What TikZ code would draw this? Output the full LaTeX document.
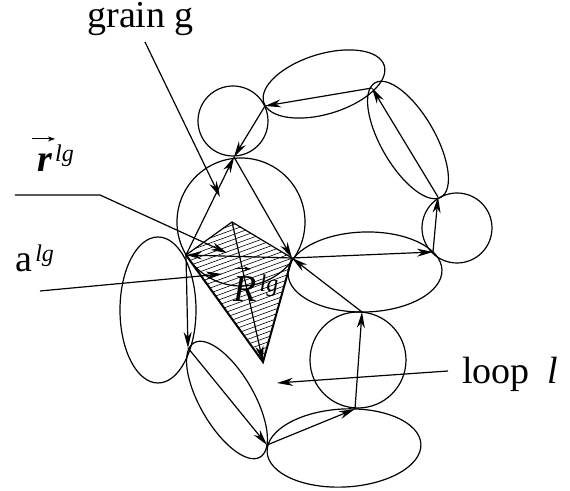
\documentclass[tikz,border=0pt]{standalone}
\usepackage{fontspec}
\setmainfont{Liberation Serif}
\usetikzlibrary{arrows.meta}

\tikzset{
  grain/.style={line width=0.6pt},
  branch/.style={line width=0.6pt, -{Stealth[length=8pt,width=4pt,inset=2.5pt]}},
  pointer/.style={line width=0.6pt, -{Stealth[length=8pt,width=4pt,inset=2.5pt]}},
  overarrow/.style={line width=0.5pt, -{Stealth[length=3.5pt,width=2.5pt,inset=1pt]}},
  hatch/.style={line width=0.3pt},
  lbl/.style={inner sep=0pt, anchor=base west, font=\fontsize{19}{22}\selectfont},
}
\newcommand{\suplg}{\kern1.5pt\raisebox{5pt}{\fontsize{12}{13}\selectfont\itshape lg}}

\begin{document}
\begin{tikzpicture}[x=0.5pt, y=-0.5pt]
    \useasboundingbox (0,0) rectangle (570,491);
    \coordinate (c1) at (234,157);
    \coordinate (c2) at (265,106);
    \coordinate (c3) at (372,88);
    \coordinate (c4) at (438,197);
    \coordinate (c5) at (433,252);
    \coordinate (c6) at (292,258);
    \coordinate (c7) at (362,312);
    \coordinate (c8) at (355,409);
    \coordinate (c9) at (267,445);
    \coordinate (c10) at (188,348);
    \coordinate (c11) at (186,255);
    \coordinate (top) at (232,222);
    \coordinate (bot) at (263,362);

    \begin{scope}
      \clip (c11) -- (top) -- (c6) -- (bot) -- cycle;
      \foreach \k in {200,205,...,430}
        \draw[hatch] (150,\k) -- ++(200,-73);
    \end{scope}
    \draw[grain] (c11) -- (top) -- (c6);
    \draw[line width=1pt] (c11) -- (bot) -- (c6);

    \draw[grain] (233,121) circle [radius=35];
    \draw[grain] (241,222) circle [radius=64];
    \draw[grain, rotate around={17:(324,84)}] (324,84) ellipse [x radius=63, y radius=30];
    \draw[grain, rotate around={-60:(408,140)}] (408,140) ellipse [x radius=66, y radius=27];
    \draw[grain] (457,228) circle [radius=35];
    \draw[grain, rotate around={1.5:(365,272)}] (365,272) ellipse [x radius=77, y radius=40];
    \draw[grain] (358,360) circle [radius=48];
    \draw[grain, rotate around={3:(344,448)}] (344,448) ellipse [x radius=77, y radius=39];
    \draw[grain, rotate around={-60:(227,400)}] (227,400) ellipse [x radius=66, y radius=27];
    \draw[grain] (158,310) ellipse [x radius=38, y radius=73];

    \draw[branch] (c3) -- (c2);
    \draw[branch] (c2) -- (c1);
    \draw[branch] (c11) -- (c1);
    \draw[branch] (c1) -- (c6);
    \draw[branch] (c6) -- (c5);
    \draw[branch] (c5) -- (c4);
    \draw[branch] (c4) -- (c3);
    \draw[branch] (c7) -- (c6);
    \draw[branch] (c8) -- (c7);
    \draw[branch] (c9) -- (c8);
    \draw[branch] (c10) -- (c9);
    \draw[branch] (c11) -- (c10);
    \draw[branch] (c6) -- (c11);
    \draw[branch] (top) -- (bot);

    \node[lbl] (grain) at (87,28) {grain g};
    \node[lbl] (rlg) at (37,172) {{\bfseries\itshape r}\suplg};
    \node[lbl] (alg) at (15,272) {a\suplg};
    \node[lbl] (Rlg) at (233,302) {{\itshape R}\suplg};
    \node[lbl] (loop) at (462,384) {loop\hspace{0.45em}\textit{l}};
    \draw[overarrow] ([shift={(-5,-6)}]rlg.north west) -- ([shift={(18,-6)}]rlg.north west);
    \draw[overarrow] ([shift={(2,-6)}]Rlg.north west) -- ([shift={(18,-6)}]Rlg.north west);

    \coordinate (gfoot) at (145,42);
    \coordinate (gtip) at (220,197);
    \coordinate (rfoot) at (15,195);
    \coordinate (rbend) at (100,195);
    \coordinate (rtip) at (227,253);
    \coordinate (afoot) at (40,291);
    \coordinate (atip) at (222,274);
    \coordinate (lfoot) at (448,371);
    \coordinate (ltip) at (277,383);
    \draw[pointer] (gfoot) -- (gtip);
    \draw[pointer] (rfoot) -- (rbend) -- (rtip);
    \draw[pointer] (afoot) -- (atip);
    \draw[pointer] (lfoot) -- (ltip);
\end{tikzpicture}
\end{document}
